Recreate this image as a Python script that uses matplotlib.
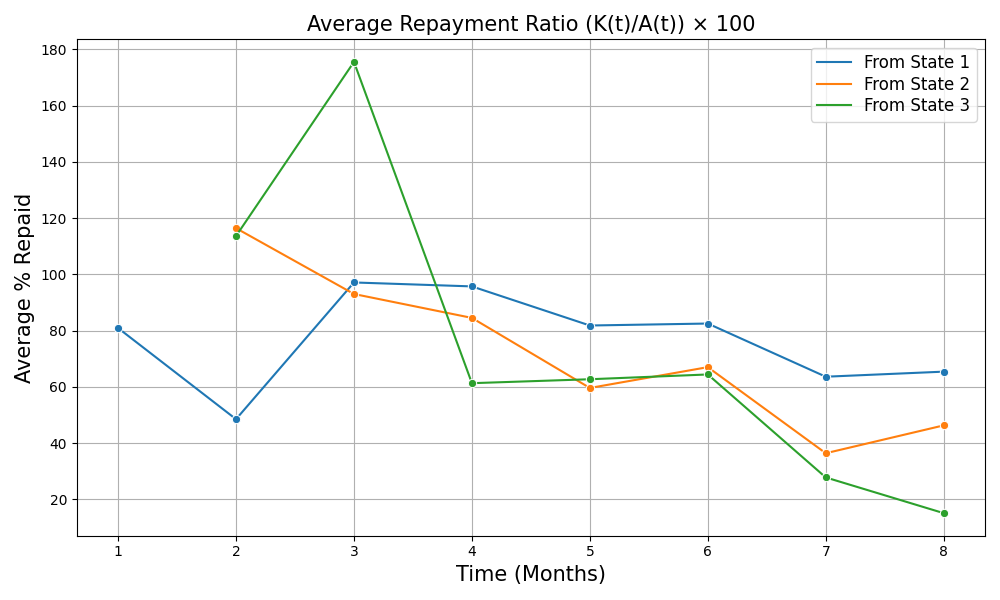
import matplotlib
matplotlib.use("Agg")
import matplotlib.pyplot as plt
from matplotlib.lines import Line2D

months = [1, 2, 3, 4, 5, 6, 7, 8]
state1_x = [1, 2, 3, 4, 5, 6, 7, 8]
state1 = [80.9, 48.5, 97.1, 95.7, 81.8, 82.5, 63.6, 65.4]
state2_x = [2, 3, 4, 5, 6, 7, 8]
state2 = [116.4, 93.0, 84.5, 59.6, 67.0, 36.4, 46.3]
state3_x = [2, 3, 4, 5, 6, 7, 8]
state3 = [113.6, 175.5, 61.3, 62.7, 64.4, 27.8, 15.1]
labels = ["From State 1", "From State 2", "From State 3"]
colors = ["#1f77b4", "#ff7f0e", "#2ca02c"]

fig, ax = plt.subplots(figsize=(10, 6), dpi=100)
handles = []
for xs, ys, lab, c in zip([state1_x, state2_x, state3_x], [state1, state2, state3], labels, colors):
    ax.plot(xs, ys, color=c, linewidth=1.5, marker='o', markersize=6,
            markeredgecolor='white', markeredgewidth=0.75)
    handles.append(Line2D([], [], color=c, linewidth=1.5, label=lab))

ax.set_title("Average Repayment Ratio (K(t)/A(t)) × 100", fontsize=15)
ax.set_xlabel("Time (Months)", fontsize=15)
ax.set_ylabel("Average % Repaid", fontsize=15)
ax.set_xticks(months)
ax.grid(True)
ax.legend(handles=handles, fontsize=12, loc='upper right', labelspacing=0.2)
fig.tight_layout()
fig.savefig("out.png")
